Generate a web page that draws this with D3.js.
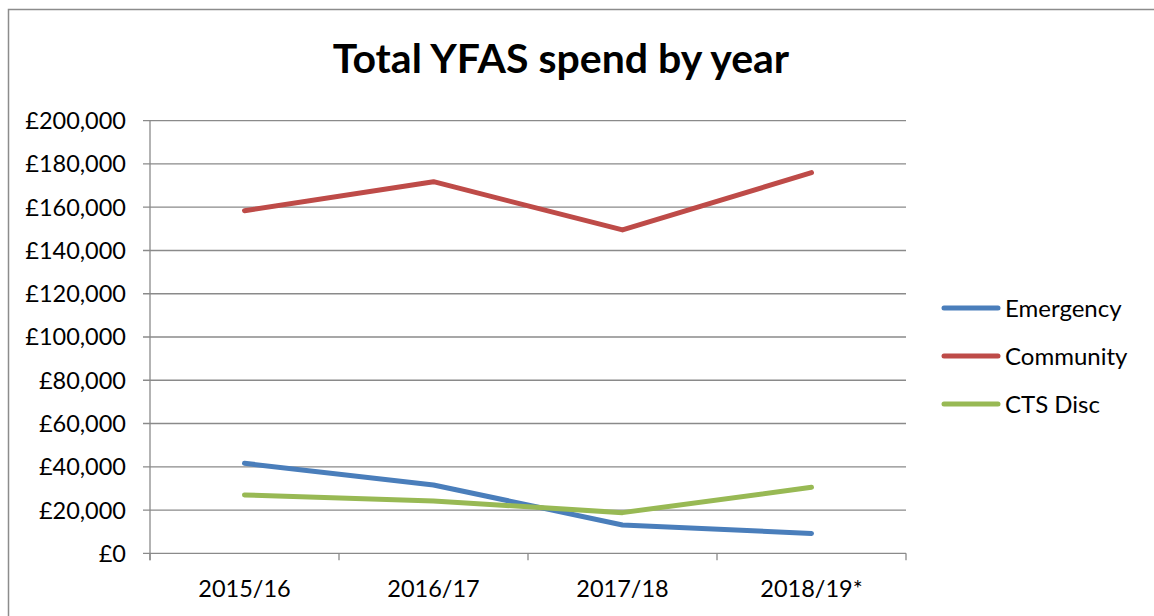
<!DOCTYPE html>
<html><head><meta charset="utf-8">
<script src="https://cdn.jsdelivr.net/npm/d3@7"></script>
<style>body{margin:0;background:#fff}svg{display:block}text{font-family:Lato,"Open Sans",sans-serif;fill:#000}</style>
</head><body>
<svg id="c" width="1154" height="616"></svg>
<script>
const categories = ["2015/16","2016/17","2017/18","2018/19*"];
const emergency = [41600, 31600, 13100, 9200];
const community = [158400, 171800, 149500, 176000];
const ctsDisc = [27000, 24200, 18800, 30500];
const seriesNames = ["Emergency","Community","CTS Disc"];
const seriesColors = ["#4A7EBB","#BE4B48","#98B954"];
const yTicks = [0,20000,40000,60000,80000,100000,120000,140000,160000,180000,200000];
const title = "Total YFAS spend by year";

const series = [emergency, community, ctsDisc];
const svg = d3.select("#c");
// chart border
svg.append("path").attr("d","M8.5,616 V9.5 H1154").attr("fill","none").attr("stroke","#8c8c8c").attr("stroke-width",1.5);

const m = {left:150, right:906, top:120.7, bottom:553.3};
const x = d3.scaleBand().domain(categories).range([m.left,m.right]).paddingInner(0).paddingOuter(0);
const y = d3.scaleLinear().domain([0,200000]).range([m.bottom,m.top]);
const fmt = v => "£" + d3.format(",")(v);

// grid
svg.append("g").selectAll("line").data(yTicks).join("line")
  .attr("x1",m.left-7).attr("x2",m.right).attr("y1",d=>y(d)).attr("y2",d=>y(d))
  .attr("stroke","#8a8a8a").attr("stroke-width",1.3);
// y axis line
svg.append("line").attr("x1",m.left).attr("x2",m.left).attr("y1",m.top).attr("y2",m.bottom+7).attr("stroke","#8a8a8a").attr("stroke-width",1.3);
// x ticks
const xt = categories.map(c=>x(c)).concat([m.right]);
svg.append("g").selectAll("line").data(xt).join("line")
  .attr("x1",d=>d).attr("x2",d=>d).attr("y1",m.bottom).attr("y2",m.bottom+7)
  .attr("stroke","#8a8a8a").attr("stroke-width",1.3);
// y labels
svg.append("g").selectAll("text").data(yTicks).join("text")
  .attr("x",126).attr("y",d=>y(d)).attr("dy","0.36em").attr("text-anchor","end")
  .style("font-size","23.5px").text(fmt);
// x labels
svg.append("g").selectAll("text").data(categories).join("text")
  .attr("x",d=>x(d)+x.bandwidth()/2).attr("y",597).attr("text-anchor","middle")
  .style("font-size","23.5px").text(d=>d);
// lines
const line = d3.line().x((d,i)=>x(categories[i])+x.bandwidth()/2).y(d=>y(d));
series.forEach((s,i)=>{
  svg.append("path").datum(s).attr("d",line).attr("fill","none")
    .attr("stroke",seriesColors[i]).attr("stroke-width",5).attr("stroke-linecap","round").attr("stroke-linejoin","round");
});
// legend
const lg = svg.append("g");
seriesNames.forEach((n,i)=>{
  const yy = 308 + i*48;
  lg.append("line").attr("x1",944).attr("x2",998).attr("y1",yy).attr("y2",yy)
    .attr("stroke",seriesColors[i]).attr("stroke-width",5).attr("stroke-linecap","round");
  lg.append("text").attr("x",1005).attr("y",yy).attr("dy","0.36em").style("font-size","24px").text(n);
});
// title
svg.append("text").attr("x",561).attr("y",73).attr("text-anchor","middle")
  .style("font-size","41px").style("font-weight","bold").text(title);
</script>
</body></html>
